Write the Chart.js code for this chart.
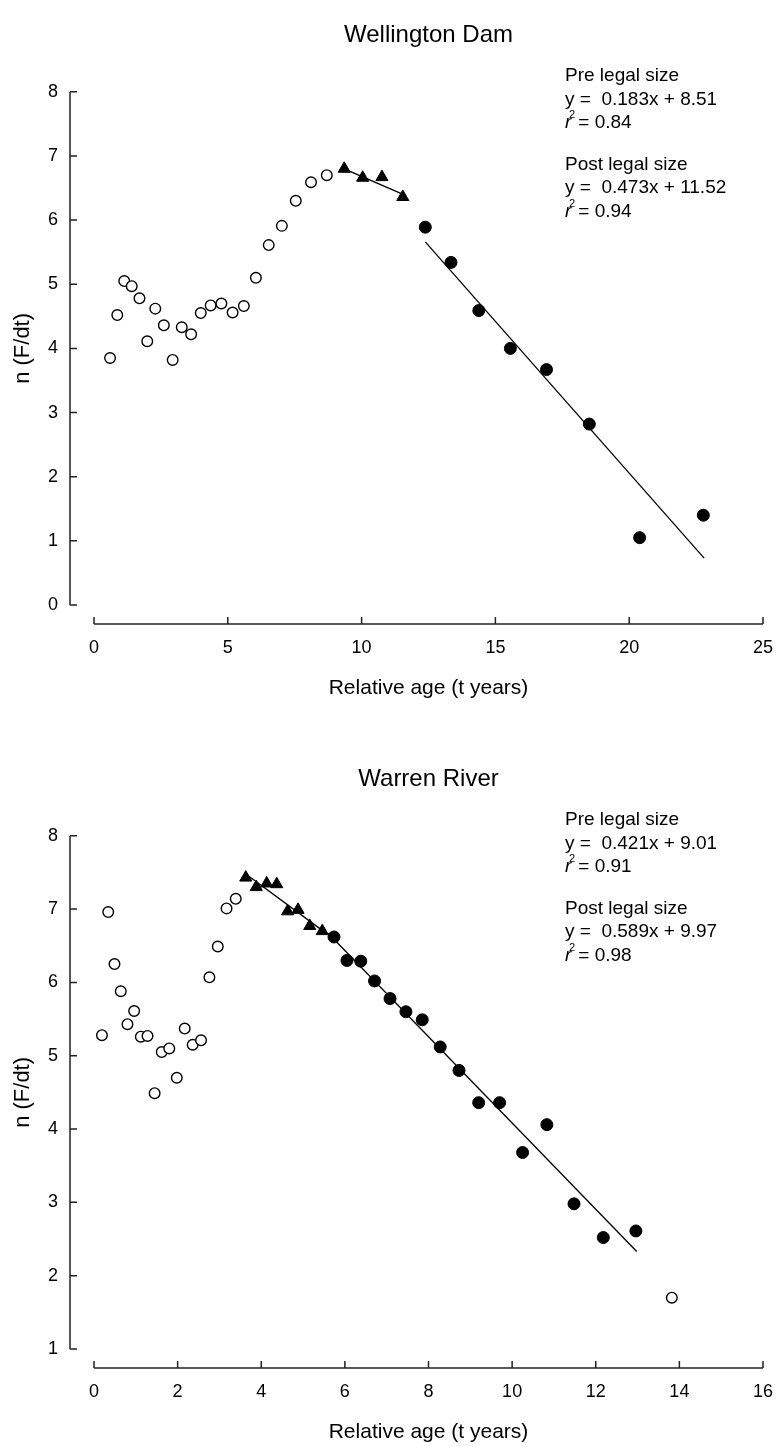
<!DOCTYPE html>
<html>
<head>
<meta charset="utf-8">
<script src="https://cdn.jsdelivr.net/npm/chart.js@4.4.1/dist/chart.umd.min.js"></script>
<style>
  html, body { margin: 0; padding: 0; background: #fff; overflow: hidden; }
  .panel { position: absolute; left: 0; width: 778px; }
  #top { top: 0; height: 744px; }
  #bottom { top: 744px; height: 703px; }
</style>
</head>
<body>
<div class="panel" id="top"><canvas id="wellington"></canvas></div>
<div class="panel" id="bottom"><canvas id="warren"></canvas></div>
<script>
// Wellington Dam - open circles (not used in fits)
const wdOpenX = [0.60, 0.87, 1.13, 1.41, 1.70, 1.99, 2.29, 2.61, 2.94, 3.28, 3.63, 3.99, 4.36, 4.76, 5.18, 5.60, 6.05, 6.53, 7.02, 7.54, 8.11, 8.70];
const wdOpenY = [3.85, 4.52, 5.05, 4.97, 4.78, 4.11, 4.62, 4.36, 3.82, 4.33, 4.22, 4.55, 4.67, 4.70, 4.56, 4.66, 5.10, 5.61, 5.91, 6.30, 6.59, 6.70];
// pre legal size (triangles)
const wdPreX = [9.35, 10.04, 10.76, 11.54];
const wdPreY = [6.80, 6.66, 6.67, 6.36];
// post legal size (filled circles)
const wdPostX = [12.38, 13.34, 14.38, 15.56, 16.91, 18.51, 20.39, 22.77];
const wdPostY = [5.89, 5.34, 4.59, 4.00, 3.67, 2.82, 1.05, 1.40];
// fitted lines, end points
const wdPreLineX = [9.35, 11.55];
const wdPreLineY = [6.80, 6.40];
const wdPostLineX = [12.38, 22.80];
const wdPostLineY = [5.66, 0.73];
const wdText = ["Pre legal size", "y =  0.183x + 8.51", "0.84", "Post legal size", "y =  0.473x + 11.52", "0.94"];

// Warren River
const wrOpenX = [0.19, 0.34, 0.49, 0.64, 0.80, 0.96, 1.12, 1.28, 1.45, 1.62, 1.80, 1.98, 2.17, 2.36, 2.56, 2.76, 2.96, 3.17, 3.39, 13.82];
const wrOpenY = [5.28, 6.96, 6.25, 5.88, 5.43, 5.61, 5.26, 5.27, 4.49, 5.05, 5.10, 4.70, 5.37, 5.15, 5.21, 6.07, 6.49, 7.01, 7.14, 1.70];
const wrPreX = [3.63, 3.88, 4.13, 4.37, 4.63, 4.88, 5.16, 5.46];
const wrPreY = [7.43, 7.30, 7.35, 7.34, 6.97, 6.99, 6.77, 6.70];
const wrPostX = [5.74, 6.05, 6.38, 6.71, 7.08, 7.46, 7.85, 8.28, 8.73, 9.20, 9.70, 10.25, 10.83, 11.48, 12.18, 12.96];
const wrPostY = [6.62, 6.30, 6.29, 6.02, 5.78, 5.60, 5.49, 5.12, 4.80, 4.36, 4.36, 3.68, 4.06, 2.98, 2.52, 2.61];
const wrPreLineX = [3.63, 5.46];
const wrPreLineY = [7.48, 6.71];
const wrPostLineX = [5.60, 12.98];
const wrPostLineY = [6.67, 2.33];
const wrText = ["Pre legal size", "y =  0.421x + 9.01", "0.91", "Post legal size", "y =  0.589x + 9.97", "0.98"];

const FONT = "'Liberation Sans', Arial, sans-serif";

function pts(xs, ys) {
    return xs.map((x, i) => ({ x: x, y: ys[i] }));
}

// offset axes drawn from the chart's own scales (SigmaPlot look)
const offsetAxes = {
    id: "offsetAxes",
    afterDraw(chart) {
        const ctx = chart.ctx;
        const xs = chart.scales.x, ys = chart.scales.y;
        const area = chart.chartArea;
        const axX = area.left - 24;
        const axY = area.bottom + 19;
        ctx.save();
        ctx.strokeStyle = "#222";
        ctx.lineWidth = 1.5;
        ctx.beginPath();
        ctx.moveTo(axX, ys.getPixelForValue(ys.min));
        ctx.lineTo(axX, ys.getPixelForValue(ys.max));
        ys.ticks.forEach(t => {
            const py = ys.getPixelForValue(t.value);
            ctx.moveTo(axX, py);
            ctx.lineTo(axX + 7, py);
        });
        ctx.moveTo(xs.getPixelForValue(xs.min), axY);
        ctx.lineTo(xs.getPixelForValue(xs.max), axY);
        xs.ticks.forEach(t => {
            const px = xs.getPixelForValue(t.value);
            ctx.moveTo(px, axY);
            ctx.lineTo(px, axY - 7);
        });
        ctx.stroke();

        // fit equations
        const lines = chart.options.plugins.offsetAxes.text;
        const tx = 565;
        const rows = [76, 100, 123, 165, 188, 212];
        ctx.fillStyle = "#000";
        ctx.textBaseline = "middle";
        ctx.textAlign = "left";
        rows.forEach((ry, i) => {
            ctx.font = "19px " + FONT;
            if (i === 2 || i === 5) {
                ctx.font = "italic 19px " + FONT;
                ctx.fillText("r", tx, ry);
                ctx.font = "11px " + FONT;
                ctx.fillText("2", tx + 4, ry - 8);
                ctx.font = "19px " + FONT;
                ctx.fillText(" = " + lines[i], tx + 8, ry);
            } else {
                ctx.fillText(lines[i], tx, ry);
            }
        });
        ctx.restore();
    }
};

function makeChart(id, cfg) {
    const tickFont = { family: FONT, size: 18 };
    return new Chart(document.getElementById(id), {
        type: "scatter",
        data: {
            datasets: [
                { data: pts(cfg.preLineX, cfg.preLineY), showLine: true, borderColor: "#000", borderWidth: 1.3, pointRadius: 0 },
                { data: pts(cfg.postLineX, cfg.postLineY), showLine: true, borderColor: "#000", borderWidth: 1.3, pointRadius: 0 },
                { data: pts(cfg.openX, cfg.openY), pointStyle: "circle", pointRadius: 5.3, backgroundColor: "#fff", borderColor: "#000", borderWidth: 1.4 },
                { data: pts(cfg.preX, cfg.preY), pointStyle: "triangle", pointRadius: 7, backgroundColor: "#000", borderColor: "#000", borderWidth: 1 },
                { data: pts(cfg.postX, cfg.postY), pointStyle: "circle", pointRadius: 6, backgroundColor: "#000", borderColor: "#000", borderWidth: 1 }
            ]
        },
        options: {
            responsive: true,
            maintainAspectRatio: false,
            animation: false,
            events: [],
            layout: { padding: { left: 0, right: 15, top: 0, bottom: 0 } },
            plugins: {
                legend: { display: false },
                tooltip: { enabled: false },
                title: {
                    display: true,
                    fullSize: false,
                    text: cfg.title,
                    color: "#000",
                    font: { family: FONT, size: 24, weight: "normal" },
                    padding: { top: 21, bottom: 42 }
                },
                offsetAxes: { text: cfg.text }
            },
            scales: {
                x: {
                    type: "linear",
                    min: cfg.xMin, max: cfg.xMax,
                    grid: { display: false, drawTicks: false },
                    border: { display: false },
                    ticks: { stepSize: cfg.xStep, color: "#000", font: tickFont, padding: 32, maxRotation: 0 },
                    title: { display: true, text: "Relative age (t years)", color: "#000", font: { family: FONT, size: 21 }, padding: { top: 0, bottom: cfg.xTitlePad } },
                    afterFit(s) {
                        s.height = cfg.xHeight;
                        s.paddingLeft = 0;
                        s.paddingRight = 0;
                    }
                },
                y: {
                    type: "linear",
                    min: cfg.yMin, max: cfg.yMax,
                    grid: { display: false, drawTicks: false },
                    border: { display: false },
                    ticks: { stepSize: 1, color: "#000", font: tickFont, padding: 36 },
                    title: { display: true, text: "n (F/dt)", color: "#000", font: { family: FONT, size: 22 }, padding: { top: 10, bottom: 0 } },
                    afterFit(s) {
                        s.width = 94;
                        s.paddingTop = 0;
                        s.paddingBottom = 0;
                    }
                }
            }
        },
        plugins: [offsetAxes]
    });
}

makeChart("wellington", {
    title: "Wellington Dam", text: wdText,
    openX: wdOpenX, openY: wdOpenY, preX: wdPreX, preY: wdPreY, postX: wdPostX, postY: wdPostY,
    preLineX: wdPreLineX, preLineY: wdPreLineY, postLineX: wdPostLineX, postLineY: wdPostLineY,
    xMin: 0, xMax: 25, xStep: 5, yMin: 0, yMax: 8, xHeight: 139, xTitlePad: 43
});

makeChart("warren", {
    title: "Warren River", text: wrText,
    openX: wrOpenX, openY: wrOpenY, preX: wrPreX, preY: wrPreY, postX: wrPostX, postY: wrPostY,
    preLineX: wrPreLineX, preLineY: wrPreLineY, postLineX: wrPostLineX, postLineY: wrPostLineY,
    xMin: 0, xMax: 16, xStep: 2, yMin: 1, yMax: 8, xHeight: 98, xTitlePad: 2
});
</script>
</body>
</html>
